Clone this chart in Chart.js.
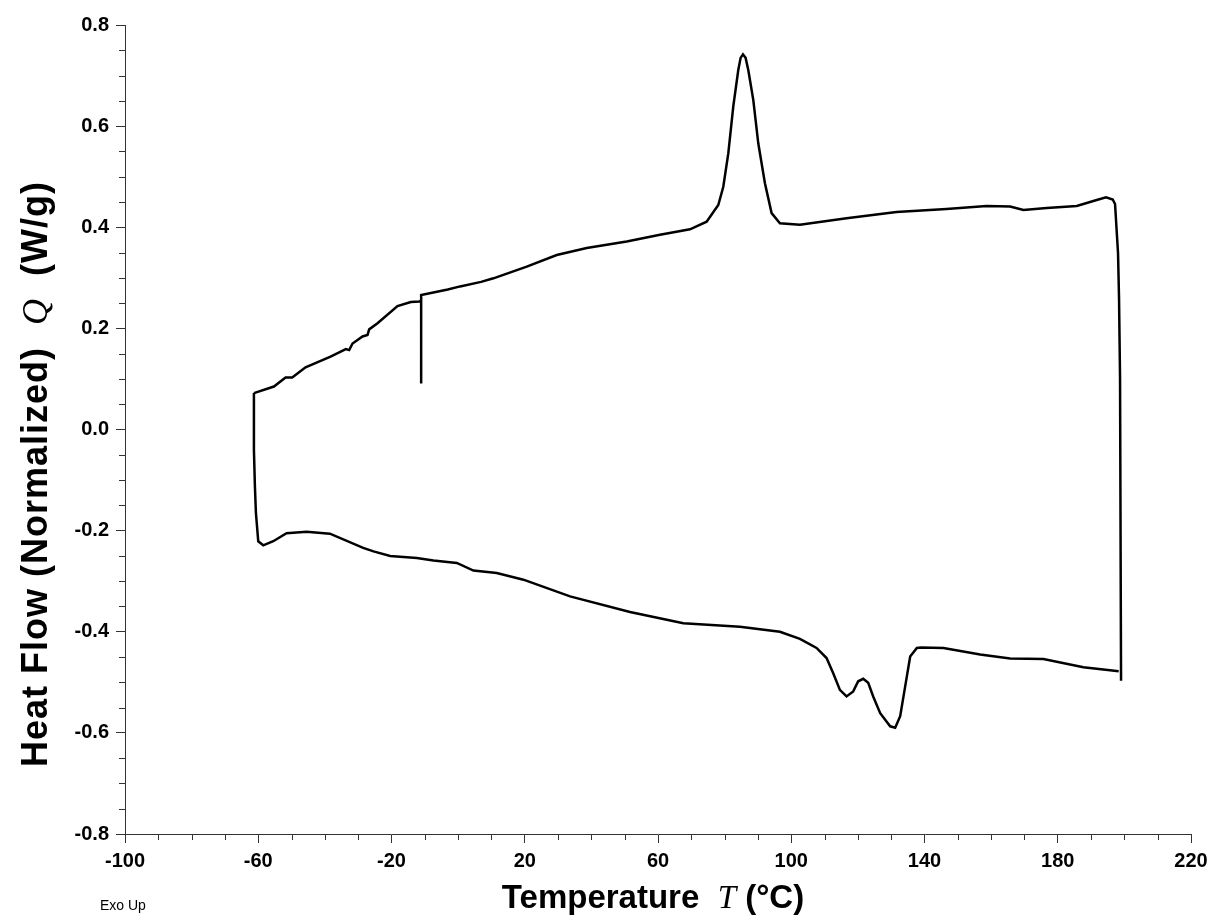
<!DOCTYPE html>
<html lang="en">
<head>
    <meta charset="UTF-8">
    <title>DSC Heat Flow</title>
    <style>
        body {
            margin: 0;
            background: #ffffff;
            font-family: Arial, "Liberation Sans", sans-serif;
        }

        .wrap {
            position: relative;
            width: 1216px;
            height: 923px;
        }

        /* titulos dos eixos como texto HTML (mistura negrito + italico serif) */
        .titulo {
            position: absolute;
            font-weight: bold;
            color: #000;
            white-space: nowrap;
            line-height: 1;
        }

        .titulo i {
            font-family: "Times New Roman", "Liberation Serif", serif;
            font-weight: normal;
        }

        #titulo-x {
            font-size: 33px;
            left: 653px;
            top: 880px;
            transform: translateX(-50%);
        }

        #titulo-y {
            font-size: 36px;
            letter-spacing: 1px;
            left: 17px;
            top: 767px;
            transform-origin: left top;
            transform: rotate(-90deg);
        }

        #exo {
            position: absolute;
            left: 100px;
            top: 897px;
            font-size: 14px;
            color: #000;
        }
    </style>
</head>
<body>

<div class="wrap">
    <canvas id="grafico" width="1216" height="923"></canvas>
    <div class="titulo" id="titulo-y">Heat Flow (Normalized)&nbsp; <i>Q</i>&nbsp; (W/g)</div>
    <div class="titulo" id="titulo-x">Temperature&nbsp; <i>T</i>&nbsp;(°C)</div>
    <div id="exo">Exo Up</div>
</div>

<script src="https://cdn.jsdelivr.net/npm/chart.js"></script>
<script>
    // Curva de aquecimento (parte de cima + queda vertical a direita)
    const heatT = [-61.3, -55.3, -51.8, -49.8, -45.8, -38.3, -33.7, -32.7, -31.7, -28.7, -27.2, -26.7, -24.2,
        -18.2, -14.2, -11.7, -11.1, -11.1, -11.1, -3.1, 0.6, 6.9, 10.6, 20.6, 29.6, 38.6, 50.6, 60.6, 69.6,
        74.6, 78.1, 79.6, 81.1, 82.6, 84.1, 84.8, 85.5, 86.3, 87.1, 88.6, 90.1, 92.1, 94.1, 96.6, 102.6,
        116.6, 131.6, 146.6, 158.6, 165.7, 169.7, 176.7, 185.7, 191.7, 194.5, 196.5, 197.2, 198.1, 198.4,
        198.7, 199.0];
    const heatQ = [0.072, 0.085, 0.103, 0.103, 0.123, 0.144, 0.159, 0.157, 0.170, 0.184, 0.187, 0.198, 0.210,
        0.244, 0.252, 0.253, 0.255, 0.091, 0.266, 0.277, 0.283, 0.292, 0.299, 0.322, 0.345, 0.359, 0.372, 0.385, 0.396,
        0.411, 0.444, 0.480, 0.546, 0.639, 0.711, 0.735, 0.742, 0.735, 0.711, 0.652, 0.566, 0.487, 0.428, 0.408, 0.405,
        0.418, 0.430, 0.436, 0.442, 0.441, 0.434, 0.438, 0.442, 0.454, 0.459, 0.455, 0.446, 0.348, 0.258,
        0.102, -0.497];

    // Curva de resfriamento (parte de baixo, da direita para a esquerda, fechando no inicio)
    const coolT = [198.3, 187.7, 175.7, 165.7, 156.7, 145.7, 139.0, 137.7, 135.7, 134.2, 132.7, 131.2, 129.7,
        126.7, 124.6, 123.1, 121.6, 120.1, 118.6, 116.6, 114.6, 112.6, 110.6, 107.6, 102.6, 96.6, 84.6, 67.6,
        51.6, 33.6, 19.6, 11.6, 4.6, -0.4, -7.4, -12.4, -20.4, -25.4, -28.5, -38.5, -42.0, -45.5, -49.5,
        -51.5, -55.5, -58.5, -60.0, -60.7, -61.0, -61.3, -61.3];
    const coolQ = [-0.478, -0.470, -0.454, -0.453, -0.445, -0.432, -0.431, -0.432, -0.449, -0.508, -0.567, -0.590, -0.587,
        -0.561, -0.528, -0.501, -0.493, -0.498, -0.518, -0.528, -0.515, -0.482, -0.452, -0.432, -0.414, -0.400, -0.390, -0.383,
        -0.361, -0.330, -0.297, -0.284, -0.279, -0.264, -0.259, -0.254, -0.250, -0.241, -0.234, -0.206, -0.204, -0.202, -0.204,
        -0.205, -0.221, -0.229, -0.221, -0.165, -0.113, -0.040, 0.072];

    // Eixos
    const xTicks = [-100, -60, -20, 20, 60, 100, 140, 180, 220];
    const yTicks = [-0.8, -0.6, -0.4, -0.2, 0.0, 0.2, 0.4, 0.6, 0.8];
    const xMinorStep = 10;
    const yMinorStep = 0.05;

    const fonteTicks = { family: 'Arial, "Liberation Sans", sans-serif', size: 20, weight: 'bold' };

    function pontos(xs, ys) {
        return xs.map((x, i) => ({ x: x, y: ys[i] }));
    }

    // ticks menores desenhados a partir das escalas do proprio Chart.js
    const ticksMenores = {
        id: 'ticksMenores',
        afterDraw(chart) {
            const ctx = chart.ctx;
            const sx = chart.scales.x;
            const sy = chart.scales.y;
            const area = chart.chartArea;
            ctx.save();
            ctx.strokeStyle = '#333';
            ctx.lineWidth = 1;
            ctx.beginPath();
            for (let v = sx.min; v <= sx.max + 1e-6; v += xMinorStep) {
                if (xTicks.some(t => Math.abs(t - v) < 1e-6)) continue;
                const px = Math.round(sx.getPixelForValue(v)) + 0.5;
                ctx.moveTo(px, area.bottom);
                ctx.lineTo(px, area.bottom + 6);
            }
            for (let v = sy.min; v <= sy.max + 1e-6; v += yMinorStep) {
                if (yTicks.some(t => Math.abs(t - v) < 1e-6)) continue;
                const py = Math.round(sy.getPixelForValue(v)) + 0.5;
                ctx.moveTo(area.left, py);
                ctx.lineTo(area.left - 6, py);
            }
            ctx.stroke();
            ctx.restore();
        }
    };

    new Chart(document.getElementById('grafico').getContext('2d'), {
        type: 'scatter',
        data: {
            datasets: [
                {
                    label: 'Aquecimento',
                    data: pontos(heatT, heatQ),
                    showLine: true,
                    borderColor: '#000',
                    borderWidth: 2.5,
                    pointRadius: 0,
                    tension: 0
                },
                {
                    label: 'Resfriamento',
                    data: pontos(coolT, coolQ),
                    showLine: true,
                    borderColor: '#000',
                    borderWidth: 2.5,
                    pointRadius: 0,
                    tension: 0
                }
            ]
        },
        options: {
            responsive: false,
            animation: false,
            layout: { padding: { left: 0, right: 25, top: 25, bottom: 0 } },
            plugins: {
                legend: { display: false },
                tooltip: { enabled: false }
            },
            scales: {
                x: {
                    type: 'linear',
                    min: -100,
                    max: 220,
                    afterBuildTicks: s => { s.ticks = xTicks.map(v => ({ value: v })); },
                    afterFit: s => { s.height = 923 - 834; },
                    ticks: {
                        color: '#000',
                        font: fonteTicks,
                        padding: 6,
                        maxRotation: 0,
                        callback: v => String(v)
                    },
                    grid: {
                        drawOnChartArea: false,
                        drawTicks: true,
                        tickLength: 9,
                        tickColor: '#333'
                    },
                    border: { color: '#333', width: 1 }
                },
                y: {
                    type: 'linear',
                    min: -0.8,
                    max: 0.8,
                    afterBuildTicks: s => { s.ticks = yTicks.map(v => ({ value: v })); },
                    afterFit: s => { s.width = 125; },
                    ticks: {
                        color: '#000',
                        font: fonteTicks,
                        padding: 7,
                        callback: v => (Math.abs(v) < 1e-9 ? 0 : v).toFixed(1)
                    },
                    grid: {
                        drawOnChartArea: false,
                        drawTicks: true,
                        tickLength: 9,
                        tickColor: '#333'
                    },
                    border: { color: '#333', width: 1 }
                }
            }
        },
        plugins: [ticksMenores]
    });
</script>
</body>
</html>
